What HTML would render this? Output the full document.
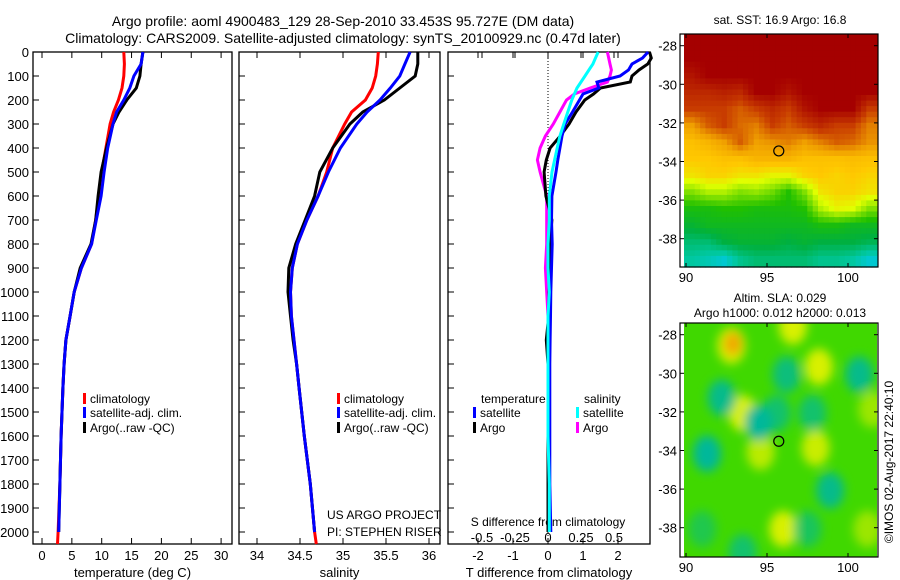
<!DOCTYPE html>
<html><head><meta charset="utf-8">
<style>
html,body{margin:0;padding:0;background:#fff;}
svg{display:block;font-family:"Liberation Sans",sans-serif;}
</style></head>
<body>
<svg id="chart" width="900" height="580" viewBox="0 0 900 580" xmlns="http://www.w3.org/2000/svg">
<rect width="900" height="580" fill="#fff"/>
<text x="343" y="26" font-size="14" text-anchor="middle">Argo profile: aoml 4900483_129 28-Sep-2010 33.453S 95.727E (DM data)</text>
<text x="343" y="43" font-size="14" text-anchor="middle">Climatology: CARS2009. Satellite-adjusted climatology: synTS_20100929.nc (0.47d later)</text>
<g id="p1"></g>
<g id="p2"></g>
<g id="p3"></g>
<g id="m1"></g>
<g id="m2"></g>
<text transform="translate(893,462) rotate(-90)" font-size="12" text-anchor="middle">©IMOS 02-Aug-2017 22:40:10</text>
</svg>
<script>
const depths = [0,50,100,150,200,250,300,400,500,600,700,800,900,1000,1100,1200,1300,1400,1600,1800,2000,2050];
const tClim = [13.7,13.8,13.7,13.4,12.8,12.0,11.4,10.7,10.0,9.5,9.0,8.3,6.6,5.4,4.7,4.0,3.7,3.5,3.2,3.0,2.7,2.6];
const tSat  = [16.9,16.6,15.4,14.7,13.7,12.5,11.9,11.0,10.4,9.9,9.1,8.3,6.6,5.4,4.7,4.0,3.7,3.5,3.2,3.0,2.8];
const tArgo = [16.9,16.6,16.4,15.8,14.2,12.9,11.9,10.8,9.9,9.4,9.0,8.2,6.4,5.4,4.7,4.0,3.7,3.5,3.2,3.0,2.8];
const sClim = [35.41,35.40,35.38,35.34,35.26,35.10,35.02,34.88,34.81,34.71,34.58,34.47,34.41,34.39,34.40,34.43,34.46,34.49,34.55,34.62,34.67,34.69];
const sSat  = [35.78,35.72,35.66,35.55,35.43,35.28,35.16,34.97,34.83,34.71,34.58,34.47,34.41,34.39,34.40,34.43,34.46,34.49,34.55,34.62,34.67];
const sArgo = [35.87,35.87,35.84,35.66,35.48,35.23,35.08,34.88,34.73,34.67,34.56,34.45,34.37,34.36,34.39,34.42,34.46,34.49,34.55,34.62,34.67];
const diffDepths = [0,25,50,75,100,125,150,175,200,250,300,350,400,450,500,600,700,800,900,1000,1100,1200,1300,1400,1600,1800,2000];
const dTSat  = [2.86,2.7,2.4,2.3,2.06,1.4,1.45,1.0,0.9,0.7,0.49,0.4,0.34,0.28,0.23,0.11,0.1,0.12,0.1,0.08,0.07,0.06,0.05,0.05,0.05,0.05,0.08];
const dTArgo = [2.9,2.95,2.85,2.6,2.4,2.35,1.5,1.3,1.05,0.8,0.6,0.35,0.06,-0.05,-0.11,-0.06,0.11,0.05,0.06,0.03,0.02,-0.05,0.0,0.0,0.0,0.0,0.0];
const dSSat  = [0.38,0.36,0.34,0.31,0.28,0.25,0.22,0.2,0.18,0.15,0.12,0.09,0.07,0.05,0.03,0.01,0.01,0.0,0.0,0.01,0.0,0.0,0.0,0.0,0.0,0.01,0.01];
const dSArgo = [0.45,0.46,0.47,0.48,0.47,0.45,0.32,0.2,0.14,0.09,0.04,-0.02,-0.06,-0.08,-0.06,-0.01,-0.01,-0.01,-0.02,-0.01,0,0,0,0,0,0,0];
const depthTicks = [0,100,200,300,400,500,600,700,800,900,1000,1100,1200,1300,1400,1500,1600,1700,1800,1900,2000];
const tTicks = [0,5,10,15,20,25,30];
const sTicks = [34,34.5,35,35.5,36];
const dTTicks = [-2,-1,0,1,2];
const dSTicks = [-0.5,-0.25,0,0.25,0.5];
const sstGrid = [
[1,1,1,1,1,1,1,1,1,1,1,1],
[1,1,1,1,1,1,1,1,1,1,1,1],
[0.95,1,1,1,1,1,1,1,1,1,1,1],
[0.9,0.9,0.92,0.9,1,1,0.95,1,1,1,1,1],
[0.85,0.85,0.85,0.8,0.85,0.9,0.85,0.95,1,1,1,0.85],
[0.7,0.8,0.85,0.78,0.75,0.85,0.8,0.85,0.9,0.85,0.85,0.75],
[0.62,0.65,0.7,0.8,0.7,0.72,0.75,0.7,0.75,0.8,0.78,0.72],
[0.6,0.6,0.62,0.62,0.65,0.65,0.65,0.62,0.62,0.62,0.63,0.62],
[0.55,0.58,0.58,0.55,0.55,0.52,0.52,0.58,0.6,0.58,0.6,0.58],
[0.4,0.45,0.45,0.4,0.42,0.38,0.3,0.4,0.55,0.58,0.58,0.55],
[0.28,0.28,0.3,0.3,0.28,0.28,0.28,0.3,0.45,0.52,0.5,0.4],
[0.22,0.25,0.25,0.25,0.25,0.25,0.25,0.25,0.28,0.28,0.25,0.25],
[0.15,0.15,0.2,0.22,0.22,0.22,0.2,0.22,0.2,0.2,0.2,0.18],
[0.1,0.08,0.05,0.12,0.15,0.15,0.15,0.15,0.12,0.12,0.1,0.05]];
// SLA anomaly blobs: lon, lat, value (+ yellow, - teal)
const slaLon = [92.8,92.9,96.6,98.2,93.5,94.6,98.0,96.0,101.2,91.3,92.2,94.5,95.6,96.2,97.8,100.7,98.9,91.0,93.5,97.5,101.5];
const slaLat = [-28.5,-28.4,-27.5,-29.6,-32.0,-34.0,-33.8,-38.0,-38.0,-34.1,-31.2,-32.5,-32.0,-30.0,-32.0,-30.0,-36.0,-38.0,-39.2,-38.0,-31.8];
const slaVal = [1,1.6,1,1,1,0.8,0.9,1,0.6,-1,-0.9,-1,-0.7,-0.8,-0.7,-0.9,-0.9,-0.5,-0.7,-0.6,0.6];

const NS='http://www.w3.org/2000/svg';
function mk(parent,tag,attrs,txt){const e=document.createElementNS(NS,tag);for(const k in attrs)e.setAttribute(k,attrs[k]);if(txt!==undefined)e.textContent=txt;parent.appendChild(e);return e;}
const yD = d => 52 + d*0.24;
const TOP=52, BOT=544;

function panel(g,x0,x1,xs,ticks,tickFmt,yLabels,title,name){
  const fr=mk(g,'rect',{x:x0,y:TOP,width:x1-x0,height:BOT-TOP,fill:'none',stroke:'#000','stroke-width':1.3});
  
  
  depthTicks.forEach(d=>{
    mk(g,'line',{x1:x0,x2:x0+6,y1:yD(d),y2:yD(d),stroke:'#000'});
    if(yLabels){const t=mk(g,'text',{x:x0-4,y:yD(d)+5,'font-size':13,'text-anchor':'end'},d);
      
      }
  });
  ticks.forEach(v=>{
    const x=xs(v);
    mk(g,'line',{x1:x,x2:x,y1:BOT,y2:BOT-6,stroke:'#000'});
    mk(g,'line',{x1:x,x2:x,y1:TOP,y2:TOP+6,stroke:'#000'});
    if(tickFmt){const t=mk(g,'text',{x:x,y:560,'font-size':13,'text-anchor':'middle'},tickFmt(v));
      
      }
  });
  const tt=mk(g,'text',{x:(x0+x1)/2,y:577,'font-size':13,'text-anchor':'middle'},title);
  
  
}
function line(g,xs,vals,deps,color,name){
  const pts=vals.map((v,i)=>xs(v).toFixed(1)+','+yD(deps[i]).toFixed(1)).join(' ');
  const p=mk(g,'polyline',{points:pts,fill:'none',stroke:color,'stroke-width':3,'stroke-linejoin':'miter'});
  
  
}
function legendItem(g,x,y,color,label){
  mk(g,'rect',{x:x,y:y-10,width:3,height:11,fill:color});
  const t=mk(g,'text',{x:x+7,y:y,'font-size':12},label);
  
  
}

// Panel 1
const p1=document.getElementById('p1');
const xT=v=>42+v*5.97;
panel(p1,33,232,xT,tTicks,v=>v,true,'temperature (deg C)','temperature');
line(p1,xT,tClim,depths,'#f00','temp-climatology-line');
line(p1,xT,tArgo,depths,'#000','temp-argo-line');
line(p1,xT,tSat,depths,'#00f','temp-satellite-line');
legendItem(p1,83,403,'#f00','climatology');
legendItem(p1,83,417,'#00f','satellite-adj. clim.');
legendItem(p1,83,432,'#000','Argo(..raw -QC)');

// Panel 2
const p2=document.getElementById('p2');
const xS=v=>257+(v-34)*86;
panel(p2,239,440,xS,sTicks,v=>v,false,'salinity','salinity');
line(p2,xS,sClim,depths,'#f00','sal-climatology-line');
line(p2,xS,sArgo,depths,'#000','sal-argo-line');
line(p2,xS,sSat,depths,'#00f','sal-satellite-line');
legendItem(p2,337,403,'#f00','climatology');
legendItem(p2,337,417,'#00f','satellite-adj. clim.');
legendItem(p2,337,432,'#000','Argo(..raw -QC)');
mk(p2,'text',{x:327,y:519,'font-size':12},'US ARGO PROJECT');
mk(p2,'text',{x:327,y:536,'font-size':12},'PI: STEPHEN RISER');

// Panel 3
const p3=document.getElementById('p3');
const xdT=v=>548+v*35;
const xdS=v=>548+v*132;
panel(p3,448,650,xdT,dTTicks,v=>v,false,'T difference from climatology','difference');
dSTicks.forEach(v=>{mk(p3,'line',{x1:xdS(v),x2:xdS(v),y1:TOP,y2:TOP+6,stroke:'#000'});
  const t=mk(p3,'text',{x:xdS(v),y:542,'font-size':13,'text-anchor':'middle'},v);
  
  });
mk(p3,'text',{x:548,y:526,'font-size':12,'text-anchor':'middle'},'S difference from climatology');
mk(p3,'line',{x1:xdT(0),x2:xdT(0),y1:TOP,y2:BOT,stroke:'#000','stroke-dasharray':'1,2'});
line(p3,xdS,dSArgo,diffDepths,'#f0f','s-argo-diff-line');
line(p3,xdT,dTArgo,diffDepths,'#000','t-argo-diff-line');
line(p3,xdT,dTSat,diffDepths,'#00f','t-satellite-diff-line');
line(p3,xdS,dSSat,diffDepths,'#0ff','s-satellite-diff-line');
mk(p3,'text',{x:481,y:403,'font-size':12},'temperature');
mk(p3,'text',{x:584,y:403,'font-size':12},'salinity');
legendItem(p3,473,417,'#00f','satellite');
legendItem(p3,473,432,'#000','Argo');
legendItem(p3,576,417,'#0ff','satellite');
legendItem(p3,576,432,'#f0f','Argo');

// colormaps
function lerpC(stops,v){v=Math.max(0,Math.min(1,v));for(let i=1;i<stops.length;i++){if(v<=stops[i][0]){const a=stops[i-1],b=stops[i],t=(v-a[0])/(b[0]-a[0]);
  return 'rgb('+[1,2,3].map(k=>Math.round(a[k]+(b[k]-a[k])*t)).join(',')+')';}}return 'rgb('+stops[stops.length-1].slice(1).join(',')+')';}
const sstStops=[[0,0,200,255],[0.1,0,200,160],[0.2,0,176,64],[0.3,32,192,0],[0.4,128,224,0],[0.5,224,255,0],[0.6,255,200,0],[0.7,240,160,0],[0.85,200,60,0],[1,165,0,0]];

function mapFrame(g,top,bot,name){
  const lonX=lon=>686+(lon-90)*16.2;
  const latY=lat=>top+11.7+(-28-lat)*19.3;
  mk(g,'rect',{x:680,y:top,width:198,height:bot-top,fill:'none',stroke:'#000','stroke-width':1.2});
  [90,95,100].forEach(l=>{const x=lonX(l);mk(g,'line',{x1:x,x2:x,y1:bot,y2:bot-4,stroke:'#000'});mk(g,'line',{x1:x,x2:x,y1:top,y2:top+4,stroke:'#000'});
    const t=mk(g,'text',{x:x,y:bot+15,'font-size':13,'text-anchor':'middle'},l);
    
    });
  [-28,-30,-32,-34,-36,-38].forEach(l=>{const y=latY(l);mk(g,'line',{x1:680,x2:684,y1:y,y2:y,stroke:'#000'});mk(g,'line',{x1:878,x2:874,y1:y,y2:y,stroke:'#000'});
    const t=mk(g,'text',{x:677,y:y+5,'font-size':13,'text-anchor':'end'},l);
    
    });
  return {lonX,latY};
}
function circle(g,x,y,name){const c=mk(g,'circle',{cx:x,cy:y,r:5,fill:'none',stroke:'#000','stroke-width':1.2});
  }

// Map 1 (bilinear upsample of grid, 3x)
const m1=document.getElementById('m1');
const rows=sstGrid.length, cols=sstGrid[0].length, UP=3;
const R=rows*UP, C=cols*UP, ch=(267-34)/R, cw=(877-684)/C;
function sample(gi,gj){
  const i0=Math.max(0,Math.min(rows-1,Math.floor(gi))), i1=Math.min(rows-1,i0+1);
  const j0=Math.max(0,Math.min(cols-1,Math.floor(gj))), j1=Math.min(cols-1,j0+1);
  const fi=Math.max(0,Math.min(1,gi-i0)), fj=Math.max(0,Math.min(1,gj-j0));
  return sstGrid[i0][j0]*(1-fi)*(1-fj)+sstGrid[i1][j0]*fi*(1-fj)+sstGrid[i0][j1]*(1-fi)*fj+sstGrid[i1][j1]*fi*fj;
}
for(let i=0;i<R;i++)for(let j=0;j<C;j++){
  const v=sample((i+0.5)/UP-0.5,(j+0.5)/UP-0.5);
  const c=mk(m1,'rect',{x:(684+j*cw).toFixed(1),y:(34+i*ch).toFixed(1),width:(cw+0.6).toFixed(1),height:(ch+0.6).toFixed(1),fill:lerpC(sstStops,v)});
  
  
}
const f1=mapFrame(m1,34,267,'sst');
circle(m1,f1.lonX(95.727),f1.latY(-33.453),'argo-location-marker');
mk(m1,'text',{x:780,y:24,'font-size':12,'text-anchor':'middle'},'sat. SST: 16.9 Argo: 16.8');

// Map 2
const m2=document.getElementById('m2');
const defs=mk(m2,'defs',{});
const flt=mk(defs,'filter',{id:'blur',x:'-50%',y:'-50%',width:'200%',height:'200%'});
mk(flt,'feGaussianBlur',{stdDeviation:5});
const cp=mk(defs,'clipPath',{id:'clip2'});mk(cp,'rect',{x:684,y:323,width:193,height:234});
mk(m2,'rect',{x:684,y:323,width:193,height:234,fill:'#40d800'});
const f2lonX=lon=>686+(lon-90)*16.2, f2latY=lat=>336+(-28-lat)*19.3;
const gb=mk(m2,'g',{'clip-path':'url(#clip2)'});
const gbi=mk(gb,'g',{filter:'url(#blur)'});
slaVal.forEach((v,i)=>{
  const col = v>1.2 ? '#f0a800' : v>0 ? '#d8f000' : '#00b89a';
  const r = v>1.2 ? 9 : 14;
  const c=mk(gbi,'ellipse',{cx:f2lonX(slaLon[i]),cy:f2latY(slaLat[i]),rx:r,ry:r*1.3,fill:col,opacity:Math.min(1,Math.abs(v))});
  
  
});
mapFrame(m2,323,557,'sla');
circle(m2,f2lonX(95.727),f2latY(-33.453),'argo-location-marker-2');
mk(m2,'text',{x:780,y:302,'font-size':12,'text-anchor':'middle'},'Altim. SLA: 0.029');
mk(m2,'text',{x:780,y:317,'font-size':12,'text-anchor':'middle'},'Argo h1000: 0.012 h2000: 0.013');
</script>
</body></html>
